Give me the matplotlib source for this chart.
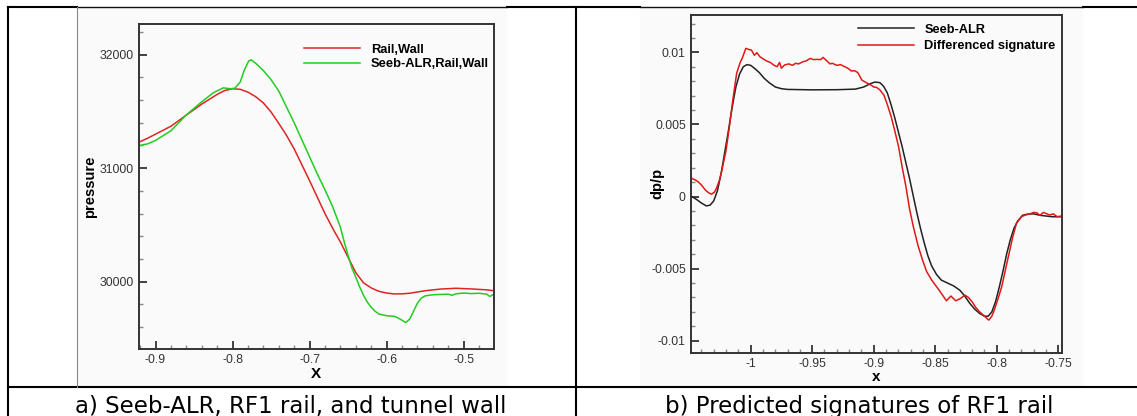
import numpy as np
import matplotlib
matplotlib.use("Agg")
import matplotlib.pyplot as plt
from matplotlib.lines import Line2D
from matplotlib.patches import Rectangle
from matplotlib.ticker import MultipleLocator

# panel a) pressure along x
xa_rail = [-0.9218, -0.91, -0.9, -0.88, -0.86, -0.84, -0.82, -0.81, -0.8, -0.79, -0.78,
           -0.77, -0.76, -0.75, -0.74, -0.73, -0.72, -0.71, -0.7, -0.69, -0.68, -0.67,
           -0.66, -0.65, -0.64, -0.63, -0.62, -0.61, -0.6, -0.59, -0.58, -0.57, -0.55,
           -0.53, -0.51, -0.49, -0.47, -0.46]
pa_rail = [31228, 31265, 31300, 31370, 31468, 31565, 31650, 31685, 31700, 31695, 31670,
           31630, 31575, 31495, 31395, 31290, 31170, 31030, 30890, 30745, 30600, 30470,
           30350, 30215, 30080, 29990, 29945, 29915, 29900, 29892, 29893, 29898, 29920,
           29935, 29942, 29936, 29928, 29920]

xa_seeb = [-0.9218, -0.91, -0.9, -0.88, -0.86, -0.84, -0.825, -0.812, -0.803, -0.797, -0.79,
           -0.785, -0.779, -0.776, -0.77, -0.76, -0.75, -0.74, -0.73, -0.72, -0.71, -0.7,
           -0.69, -0.68, -0.67, -0.66, -0.655, -0.65, -0.645, -0.64, -0.635, -0.63, -0.625,
           -0.62, -0.615, -0.61, -0.6, -0.59, -0.585, -0.58, -0.575, -0.57, -0.565, -0.56,
           -0.555, -0.55, -0.54, -0.52, -0.515, -0.51, -0.5, -0.49, -0.48, -0.47, -0.466,
           -0.462, -0.46]
pa_seeb = [31198, 31215, 31245, 31330, 31470, 31585, 31665, 31708, 31700, 31705, 31760,
           31860, 31945, 31955, 31925, 31860, 31780, 31680, 31540, 31400, 31250, 31100,
           30950, 30810, 30660, 30480, 30350, 30230, 30120, 30040, 29955, 29880, 29820,
           29775, 29740, 29715, 29700, 29695, 29680, 29660, 29640, 29670, 29740, 29810,
           29855, 29875, 29885, 29890, 29880, 29893, 29900, 29895, 29898, 29890, 29870,
           29885, 29895]

# panel b) signatures dp/p
xb_seeb = [-1.0478, -1.044, -1.04, -1.036, -1.033, -1.03, -1.027, -1.024, -1.021, -1.018,
           -1.015, -1.012, -1.009, -1.006, -1.003, -1.0, -0.997, -0.993, -0.989, -0.985,
           -0.98, -0.975, -0.97, -0.95, -0.93, -0.915, -0.908, -0.903, -0.899, -0.895,
           -0.892, -0.889, -0.886, -0.883, -0.88, -0.877, -0.874, -0.871, -0.868, -0.865,
           -0.862, -0.859, -0.856, -0.853, -0.849, -0.845, -0.84, -0.835, -0.83, -0.826,
           -0.822, -0.818, -0.814, -0.81, -0.807, -0.804, -0.801, -0.798, -0.795, -0.792,
           -0.789, -0.786, -0.783, -0.779, -0.775, -0.77, -0.765, -0.76, -0.755, -0.7473]
db_seeb = [0.0, -0.0002, -0.00045, -0.00065, -0.0006, -0.0003, 0.0004, 0.0016, 0.0031, 0.0046,
           0.0062, 0.0076, 0.0085, 0.009, 0.00915, 0.0091, 0.0089, 0.0086, 0.0082, 0.0079,
           0.0076, 0.00748, 0.00743, 0.0074, 0.00741, 0.00745, 0.0076, 0.00782, 0.00794, 0.0079,
           0.00765, 0.0072, 0.0064, 0.0055, 0.0045, 0.0035, 0.0024, 0.0013, 0.0001, -0.0011,
           -0.0022, -0.0032, -0.0041, -0.0048, -0.0054, -0.0058, -0.006, -0.0062, -0.0065, -0.0069,
           -0.0074, -0.0078, -0.0081, -0.0083, -0.0083, -0.008, -0.0073, -0.0063, -0.0052, -0.004,
           -0.003, -0.0022, -0.0017, -0.0013, -0.00122, -0.0012, -0.0013, -0.00135, -0.0014, -0.0014]

xb_diff = [-1.0478, -1.045, -1.0428, -1.04, -1.0368, -1.034, -1.0317, -1.0295, -1.0278, -1.0255,
           -1.0233, -1.02, -1.0173, -1.0145, -1.0114, -1.0085, -1.0069, -1.0039, -1.0015, -0.9994,
           -0.997, -0.9949, -0.9925, -0.9904, -0.987, -0.984, -0.981, -0.9785, -0.9765, -0.975,
           -0.9725, -0.969, -0.966, -0.9635, -0.961, -0.9575, -0.955, -0.9516, -0.949, -0.9456,
           -0.943, -0.9411, -0.938, -0.9355, -0.9336, -0.93, -0.927, -0.9246, -0.921, -0.918,
           -0.9157, -0.913, -0.911, -0.9097, -0.906, -0.9022, -0.9, -0.8977, -0.895, -0.8917,
           -0.889, -0.8858, -0.883, -0.8798, -0.877, -0.8738, -0.871, -0.8678, -0.864, -0.8603,
           -0.857, -0.8529, -0.8469, -0.8409, -0.8373, -0.8334, -0.83, -0.8259, -0.823, -0.82,
           -0.817, -0.814, -0.81, -0.8065, -0.804, -0.802, -0.799, -0.796, -0.793, -0.79,
           -0.787, -0.784, -0.78, -0.7766, -0.773, -0.77, -0.7676, -0.765, -0.762, -0.7571,
           -0.754, -0.751, -0.7473]
db_diff = [0.00126, 0.00115, 0.00103, 0.0008, 0.00045, 0.00025, 0.00017, 0.0003, 0.00057, 0.0011,
           0.00184, 0.0032, 0.00484, 0.0067, 0.00854, 0.0093, 0.00958, 0.01028, 0.0102, 0.01016,
           0.0098, 0.00998, 0.0097, 0.00958, 0.0094, 0.0093, 0.0091, 0.00901, 0.0093, 0.0089,
           0.00912, 0.0092, 0.0091, 0.00924, 0.0092, 0.00935, 0.0094, 0.00958, 0.0095, 0.00951,
           0.0095, 0.00965, 0.0094, 0.0092, 0.00924, 0.0091, 0.00915, 0.00905, 0.0089, 0.0087,
           0.00873, 0.0086, 0.0083, 0.00808, 0.0079, 0.00773, 0.0076, 0.00757, 0.0074, 0.00704,
           0.0064, 0.00554, 0.0046, 0.00346, 0.0021, 0.00068, -0.0008, -0.00209, -0.0034, -0.00441,
           -0.0052, -0.00579, -0.00649, -0.00723, -0.0069, -0.00723, -0.0071, -0.00684, -0.007, -0.0073,
           -0.0077, -0.00799, -0.0083, -0.00857, -0.0083, -0.00787, -0.0071, -0.00626, -0.0051, -0.00394,
           -0.0028, -0.00186, -0.0014, -0.00128, -0.0012, -0.0011, -0.00112, -0.0013, -0.0011, -0.00128,
           -0.0012, -0.0014, -0.00135]

captions = ["a) Seeb-ALR, RF1 rail, and tunnel wall", "b) Predicted signatures of RF1 rail"]

W, H = 1137, 416
fig = plt.figure(figsize=(W / 100, H / 100), dpi=100)
plt.rcParams['font.family'] = ['Liberation Sans', 'DejaVu Sans']


def fx(px):
    return px / W


def fy(py):
    return 1 - py / H


# faint image backgrounds
for x0, x1 in [(77, 507), (640, 1083)]:
    fig.add_artist(Rectangle((fx(x0), fy(387)), fx(x1 - x0), (387 - 7) / H,
                             facecolor='#fafafa', edgecolor='none', zorder=0))

# table borders
thick = 1.5
for x0, x1, lw, col in [(8, 77, thick, 'k'), (77, 507, 1.0, '#111111'), (507, 640, thick, 'k'),
                        (640, 1083, 1.0, '#111111'), (1083, 1137, thick, 'k')]:
    fig.add_artist(Line2D([fx(x0), fx(x1)], [fy(7), fy(7)], color=col, lw=lw))
fig.add_artist(Line2D([fx(8), fx(1137)], [fy(387), fy(387)], color='k', lw=thick))
fig.add_artist(Line2D([fx(8), fx(8)], [fy(7), 0], color='k', lw=thick))
fig.add_artist(Line2D([fx(575.5), fx(575.5)], [fy(7), 0], color='k', lw=thick))
fig.add_artist(Line2D([fx(77), fx(77)], [fy(7), fy(387)], color='#888888', lw=0.8))

for cap, cx in zip(captions, [291, 859]):
    fig.text(fx(cx), fy(413), cap, family='DejaVu Sans', fontsize=16.5,
             ha='center', va='baseline', color='k')


def style_axes(ax):
    ax.set_facecolor('none')
    for s in ['top', 'right', 'left', 'bottom']:
        ax.spines[s].set_color('#333333')
        ax.spines[s].set_linewidth(1.4)
    ax.tick_params(which='both', direction='in', top=False, right=False,
                   colors='#333333', labelsize=8.8, width=1.0)
    ax.tick_params(which='major', length=6, width=1.3)
    ax.tick_params(which='minor', length=3, colors='#888888')
    for lab in ax.get_xticklabels() + ax.get_yticklabels():
        lab.set_color('#333333')


# panel a
ax1 = fig.add_axes([0.1219, 0.1611, 0.3126, 0.7805])
ax1.plot(xa_rail, pa_rail, color='#e02424', lw=1.1, label='Rail,Wall')
ax1.plot(xa_seeb, pa_seeb, color='#22cc22', lw=1.1, label='Seeb-ALR,Rail,Wall')
ax1.set_xlim(-0.922, -0.4605)
ax1.set_ylim(29407, 32268)
ax1.xaxis.set_major_locator(MultipleLocator(0.1))
ax1.xaxis.set_minor_locator(MultipleLocator(0.02))
ax1.yaxis.set_major_locator(MultipleLocator(1000))
ax1.yaxis.set_minor_locator(MultipleLocator(200))
ax1.xaxis.set_major_formatter(lambda v, p: f"{v:g}")
style_axes(ax1)
ax1.set_xlabel('X', fontsize=11, fontweight='bold', labelpad=1)
ax1.set_ylabel('pressure', fontsize=10.5, fontweight='bold', va='center')
ax1.yaxis.set_label_coords(-0.136, 0.5)
ax1.legend(loc='upper left', bbox_to_anchor=(0.464, 0.94), frameon=False,
           prop={'size': 9.3, 'weight': 'bold'}, handlelength=4.4, handletextpad=0.8,
           labelspacing=0.2, borderpad=0, borderaxespad=0)

# panel b
ax2 = fig.add_axes([0.6075, 0.1522, 0.3263, 0.8117])
ax2.plot(xb_seeb, db_seeb, color='#222222', lw=1.1, label='Seeb-ALR')
ax2.plot(xb_diff, db_diff, color='#e01818', lw=1.1, label='Differenced signature')
ax2.set_xlim(-1.0487, -0.7472)
ax2.set_ylim(-0.01083, 0.01259)
ax2.xaxis.set_major_locator(MultipleLocator(0.05))
ax2.xaxis.set_minor_locator(MultipleLocator(0.01))
ax2.yaxis.set_major_locator(MultipleLocator(0.005))
ax2.yaxis.set_minor_locator(MultipleLocator(0.001))
ax2.xaxis.set_major_formatter(lambda v, p: f"{v:g}")
ax2.yaxis.set_major_formatter(lambda v, p: f"{v:g}")
style_axes(ax2)
ax2.set_xlabel('x', fontsize=11, fontweight='bold', labelpad=0)
ax2.set_ylabel('dp/p', fontsize=10.5, fontweight='bold', va='center')
ax2.yaxis.set_label_coords(-0.0895, 0.5)
ax2.legend(loc='upper left', bbox_to_anchor=(0.451, 0.974), frameon=False,
           prop={'size': 9.2, 'weight': 'bold'}, handlelength=4.4, handletextpad=0.8,
           labelspacing=0.35, borderpad=0, borderaxespad=0)

fig.savefig('out.png', dpi=100)
